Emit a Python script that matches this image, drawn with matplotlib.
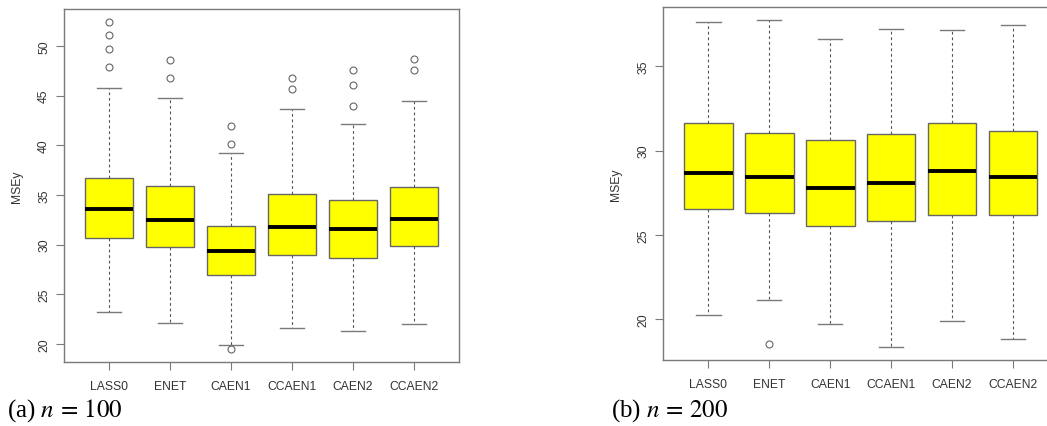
import numpy as np
import matplotlib.pyplot as plt

plt.rcParams['font.family'] = ['Liberation Sans', 'DejaVu Sans']
plt.rcParams['mathtext.fontset'] = 'stix'

methods = ["LASS0", "ENET", "CAEN1", "CCAEN1", "CAEN2", "CCAEN2"]

# (a) n = 100
a_whislo = [23.18, 22.10, 19.93, 21.60, 21.33, 22.00]
a_q1 = [30.70, 29.73, 26.95, 28.96, 28.63, 29.90]
a_med = [33.57, 32.47, 29.36, 31.80, 31.60, 32.54]
a_q3 = [36.75, 35.90, 31.87, 35.05, 34.54, 35.78]
a_whishi = [45.80, 44.70, 39.19, 43.67, 42.10, 44.40]
a_fliers = [[52.4, 51.06, 49.7, 47.9], [48.6, 46.8], [41.9, 40.1, 19.53],
            [46.8, 45.7], [47.55, 46.08, 43.97], [48.69, 47.58]]

# (b) n = 200
b_whislo = [20.28, 21.18, 19.76, 18.39, 19.94, 18.86]
b_q1 = [26.55, 26.31, 25.56, 25.81, 26.17, 26.20]
b_med = [28.65, 28.46, 27.77, 28.06, 28.79, 28.44]
b_q3 = [31.65, 31.04, 30.63, 30.96, 31.61, 31.16]
b_whishi = [37.64, 37.72, 36.62, 37.23, 37.15, 37.46]
b_fliers = [[], [18.56], [], [], [], []]


def make_stats(lo, q1, med, q3, hi, fl):
    stats = []
    for i in range(len(methods)):
        stats.append(dict(whislo=lo[i], q1=q1[i], med=med[i], q3=q3[i],
                          whishi=hi[i], fliers=fl[i], label=methods[i]))
    return stats


def draw_panel(ax, stats, ylim, yticks):
    grey = "#7a7a7a"
    ax.bxp(stats, widths=0.8, patch_artist=True,
           boxprops=dict(facecolor="#ffff00", edgecolor="#666666", linewidth=1.0),
           medianprops=dict(color="black", linewidth=2.8, solid_capstyle="butt"),
           whiskerprops=dict(color="#555555", linewidth=0.8, linestyle=(0, (2.5, 2.5))),
           capprops=dict(color=grey, linewidth=1.0),
           capwidths=0.4,
           flierprops=dict(marker="o", markersize=5, markerfacecolor="none",
                           markeredgecolor="#666666", markeredgewidth=0.8))
    ax.set_xlim(0.26, 6.74)
    ax.set_ylim(*ylim)
    ax.set_yticks(yticks)
    ax.set_yticklabels([str(t) for t in yticks], rotation=90, va="center")
    ax.set_xticks(range(1, len(methods) + 1))
    ax.set_xticklabels(methods)
    for s in ax.spines.values():
        s.set_color(grey)
        s.set_linewidth(1.0)
    ax.tick_params(axis="both", colors=grey, labelcolor="#333333",
                   labelsize=8.7, length=6, width=0.8)
    ax.tick_params(axis="x", pad=7)
    ax.tick_params(axis="y", pad=4)
    ax.set_ylabel("MSEy", fontsize=8.7, color="#333333", labelpad=11)


fig = plt.figure(figsize=(10.47, 4.27), dpi=100)

ax1 = fig.add_axes([0.0611, 0.1499, 0.3773, 0.8267])
draw_panel(ax1, make_stats(a_whislo, a_q1, a_med, a_q3, a_whishi, a_fliers),
           (18.2, 53.7), [20, 25, 30, 35, 40, 45, 50])

ax2 = fig.add_axes([0.6335, 0.1553, 0.377, 0.8253])
draw_panel(ax2, make_stats(b_whislo, b_q1, b_med, b_q3, b_whishi, b_fliers),
           (17.62, 38.49), [20, 25, 30, 35])

fig.text(0.007, 0.038, r"(a) $n\,=\,100$", fontsize=18, family="Liberation Serif",
         va="center", ha="left")
fig.text(0.584, 0.038, r"(b) $n\,=\,200$", fontsize=18, family="Liberation Serif",
         va="center", ha="left")

fig.savefig("out.png", dpi=100)
